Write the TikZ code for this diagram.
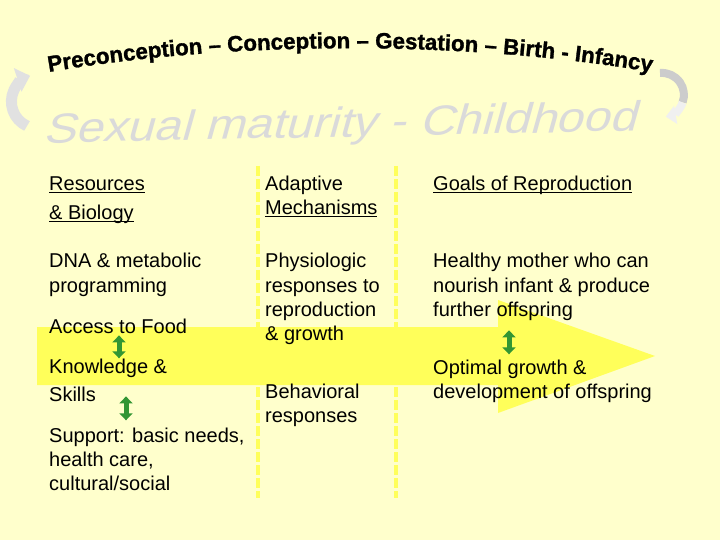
\documentclass[tikz,border=0pt]{standalone}
\usepackage{fontspec}
\setmainfont{Liberation Sans}
\newfontfamily\wordfont{Liberation Sans}[FakeStretch=1.15]
\newfontfamily\archfont{Liberation Sans}[BoldFeatures={FakeBold=1.3}]
\usepackage{tikz}
\usetikzlibrary{arrows.meta,decorations.text}

\definecolor{cream}{RGB}{255,255,204}
\definecolor{lemon}{RGB}{255,255,90}
\definecolor{leaf}{RGB}{51,150,51}
\definecolor{fog}{RGB}{218,218,218}
\newcommand\undl[1]{\setbox0=\hbox{#1}\rlap{\rule[-2.5bp]{\wd0}{1.3bp}}\box0}

\begin{document}
\begin{tikzpicture}[x=1bp,y=1bp,
txt/.style={anchor=base west, align=left, inner sep=0pt, font=\fontsize{20bp}{24bp}\selectfont},
dblarrow/.style={leaf, line width=5bp, {Triangle[width=13bp,length=7bp]}-{Triangle[width=13bp,length=7bp]}},
divider/.style={lemon, line width=4bp, dash pattern=on 10bp off 3bp},
swirl/.style={line width=11bp},
]
\fill[cream] (0,0) rectangle (720,-540);
\useasboundingbox (0,0) rectangle (720,-540);
%arched titles
\path[decorate, decoration={text along path, text align=center,
  text={|\archfont\fontsize{22.3bp}{22.3bp}\selectfont\bfseries|Preconception – Conception – Gestation – Birth - Infancy}}]
  (43,-73) .. controls (230,-40) and (470,-40) .. (657,-73);
\begin{scope}[shift={(340,-137)}, rotate=1.2, xslant=0.3]
\node (phase) [anchor=base, inner sep=0pt, transform shape, text=fog, font=\wordfont\fontsize{42bp}{42bp}\selectfont] at (0,0) {Sexual maturity - Childhood};
\end{scope}
\draw[swirl, fog!80, -{Triangle[width=24bp,length=13bp]}] (27,-126) arc[start angle=245, end angle=108, radius=27];
\draw[swirl, line width=8bp, gray!40] (660,-73) arc[start angle=95, end angle=-20, radius=22];
\draw[swirl, line width=8bp, gray!12, -{Triangle[width=18bp,length=10bp]}] (682.7,-102.5) arc[start angle=-20, end angle=-80, radius=22];
%big arrow and columns
\fill[lemon] (37,-327) -- (498,-327) -- (498,-300) -- (655,-356) -- (498,-413) -- (498,-385) -- (37,-385) -- cycle;
\draw[divider] (258,-166) -- (258,-498);
\draw[divider] (396,-166) -- (396,-498);
%first column
\node (res) [txt] at (49,-220) {\undl{Resources}\\[5bp]\undl{\& Biology}};
\node (dna) [txt] at (49,-292) {DNA \& metabolic\\programming};
\node (food) [txt] at (49,-333) {Access to Food};
\node (skills) [txt] at (49,-401) {Knowledge \&\\[4bp]Skills};
\node (support) [txt] at (49,-490) {Support: basic needs,\\health care,\\cultural/social};
%second column
\node (adapt) [txt] at (265,-215) {Adaptive\\\undl{Mechanisms}};
\node (physio) [txt] at (265,-340) {Physiologic\\responses to\\reproduction\\\& growth};
\node (behav) [txt] at (265,-422) {Behavioral\\responses};
%third column
\node (goals) [txt] at (433,-191) {\undl{Goals of Reproduction}};
\node (healthy) [txt] at (433,-316) {Healthy mother who can\\nourish infant \& produce\\further offspring};
\node (optimal) [txt] at (433,-398) {Optimal growth \&\\development of offspring};
%links
\coordinate (lnk1) at (119,0);
\coordinate (lnk2) at (126,0);
\coordinate (lnk3) at (509,0);
\draw[dblarrow, shorten <=2bp] (food.south -| lnk1) -- (skills.north -| lnk1);
\draw[dblarrow, shorten <=-5bp, shorten >=7bp] (skills.south -| lnk2) -- (support.north -| lnk2);
\draw[dblarrow, shorten <=10bp, shorten >=5bp] (healthy.south -| lnk3) -- (optimal.north -| lnk3);
\end{tikzpicture}
\end{document}
